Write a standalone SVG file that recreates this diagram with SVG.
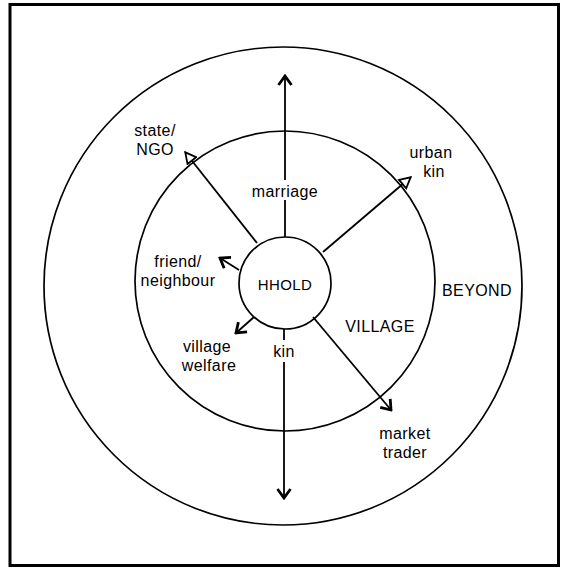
<svg xmlns="http://www.w3.org/2000/svg" width="565" height="568" viewBox="0 0 565 568">
<style>
.ring{fill:none;stroke:#000;stroke-width:1.7}
.conn{fill:none;stroke:#000;stroke-width:1.8}
.lbl{font-family:"Liberation Sans",Arial,Helvetica,sans-serif;font-size:16px;letter-spacing:0.4px;fill:#000;text-anchor:middle}
.frame{fill:#fff;stroke:#000;stroke-width:3}
</style>
<defs>
<marker id="chev" viewBox="0 0 12 16" refX="10" refY="8" markerWidth="12" markerHeight="16" markerUnits="userSpaceOnUse" orient="auto">
<path d="M1,1.5 L10,8 L1,14.5" fill="none" stroke="#000" stroke-width="2.8" stroke-linejoin="miter"/>
</marker>
<marker id="tri" viewBox="0 0 13 14" refX="12" refY="7" markerWidth="13" markerHeight="14" markerUnits="userSpaceOnUse" orient="auto">
<path d="M1,1.5 L11.5,7 L1,12.5 Z" fill="#fff" stroke="#000" stroke-width="1.8" stroke-linejoin="miter"/>
</marker>
</defs>
<rect class="frame" x="10" y="4.5" width="548.5" height="561"/>
<g id="beyond">
<circle class="ring" cx="283" cy="286" r="239"/>
<text class="lbl" x="477" y="296">BEYOND</text>
</g>
<g id="village">
<circle class="ring" cx="285" cy="281" r="150"/>
<text class="lbl" x="380" y="332">VILLAGE</text>
</g>
<g id="connectors">
<line class="conn" x1="285" y1="180" x2="285" y2="76" marker-end="url(#chev)"/>
<line class="conn" x1="285" y1="237" x2="285" y2="200"/>
<line class="conn" x1="284" y1="329" x2="284" y2="340"/>
<line class="conn" x1="284" y1="362" x2="284" y2="498" marker-end="url(#chev)"/>
<line class="conn" x1="257" y1="243" x2="185" y2="152" marker-end="url(#tri)"/>
<line class="conn" x1="323" y1="252" x2="411" y2="177" marker-end="url(#tri)"/>
<line class="conn" x1="239" y1="270" x2="220" y2="258" marker-end="url(#chev)"/>
<line class="conn" x1="254" y1="317" x2="236" y2="333" marker-end="url(#chev)"/>
<line class="conn" x1="313" y1="317" x2="391" y2="410" marker-end="url(#chev)"/>
</g>
<g id="hhold">
<circle class="ring" cx="285" cy="283" r="46" fill="#fff"/>
<text class="lbl" x="285" y="290" style="font-size:15px">HHOLD</text>
</g>
<g id="marriage"><text class="lbl" x="285" y="197">marriage</text></g>
<g id="kin"><text class="lbl" x="284" y="357">kin</text></g>
<g id="state-ngo">
<text class="lbl" x="155" y="136">state/</text>
<text class="lbl" x="155" y="154.5">NGO</text>
</g>
<g id="urban-kin">
<text class="lbl" x="431" y="158">urban</text>
<text class="lbl" x="434" y="176.5">kin</text>
</g>
<g id="friend-neighbour">
<text class="lbl" x="178" y="267">friend/</text>
<text class="lbl" x="178" y="285.5">neighbour</text>
</g>
<g id="village-welfare">
<text class="lbl" x="207" y="352">village</text>
<text class="lbl" x="209" y="370.5">welfare</text>
</g>
<g id="market-trader">
<text class="lbl" x="405" y="439">market</text>
<text class="lbl" x="405" y="457.5">trader</text>
</g>
</svg>
